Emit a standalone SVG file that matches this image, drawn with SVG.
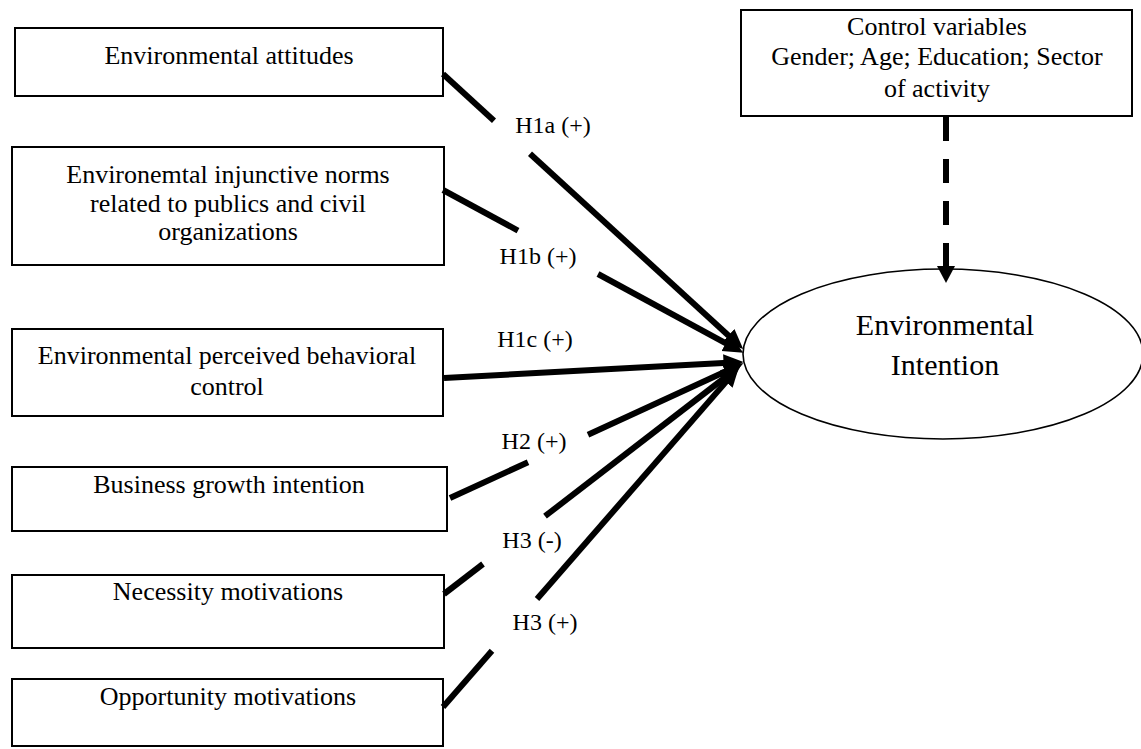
<svg xmlns="http://www.w3.org/2000/svg" width="1141" height="749" viewBox="0 0 1141 749">
  <defs>
    <style>
      .box { fill: #ffffff; stroke: #000000; stroke-width: 2; }
      .ell { fill: #ffffff; stroke: #000000; stroke-width: 1.6; }
      .t { font-family: "Liberation Serif", "Times New Roman", serif; font-size: 26px; fill: #000000; text-anchor: middle; }
      .big { font-size: 30px; }
      .lbl { font-family: "Liberation Serif", "Times New Roman", serif; font-size: 24px; fill: #000000; text-anchor: middle; }
      .con { stroke: #000000; stroke-width: 6; fill: none; }
      .dash { stroke-dasharray: 24 18; }
    </style>
    <marker id="ah" markerUnits="userSpaceOnUse" markerWidth="20" markerHeight="20" viewBox="0 -9 18 18" refX="4" refY="0" orient="auto">
      <path d="M0,-8 L18,0 L0,8 z" fill="#000000"/>
    </marker>
    <marker id="ahd" markerUnits="userSpaceOnUse" markerWidth="20" markerHeight="20" viewBox="0 -10 18 20" refX="1" refY="0" orient="auto">
      <path d="M0,-9 L17,0 L0,9 z" fill="#000000"/>
    </marker>
  </defs>

  <g id="n-attitudes">
    <rect class="box" x="15" y="28" width="428" height="68"/>
    <text class="t" x="229" y="64">Environmental attitudes</text>
  </g>

  <g id="n-norms">
    <rect class="box" x="12" y="147" width="432" height="118"/>
    <text class="t" x="228" y="183">Environemtal injunctive norms</text>
    <text class="t" x="228" y="212">related to publics and civil</text>
    <text class="t" x="228" y="240">organizations</text>
  </g>

  <g id="n-pbc">
    <rect class="box" x="12" y="329" width="431" height="87"/>
    <text class="t" x="227" y="364">Environmental perceived behavioral</text>
    <text class="t" x="227" y="395">control</text>
  </g>

  <g id="n-growth">
    <rect class="box" x="12" y="467" width="435" height="64"/>
    <text class="t" x="229" y="493">Business growth intention</text>
  </g>

  <g id="n-necessity">
    <rect class="box" x="12" y="575" width="432" height="73"/>
    <text class="t" x="228" y="600">Necessity motivations</text>
  </g>

  <g id="n-opportunity">
    <rect class="box" x="12" y="679" width="431" height="67"/>
    <text class="t" x="228" y="705">Opportunity motivations</text>
  </g>

  <g id="n-control">
    <rect class="box" x="741" y="10" width="391" height="106"/>
    <text class="t" x="937" y="35">Control variables</text>
    <text class="t" x="937" y="65">Gender; Age; Education; Sector</text>
    <text class="t" x="937" y="97">of activity</text>
  </g>

  <g id="n-intention">
    <ellipse class="ell" cx="943" cy="354" rx="200" ry="85"/>
    <text class="t big" x="945" y="335">Environmental</text>
    <text class="t big" x="945" y="375">Intention</text>
  </g>

  <g id="connectors">
    <!-- H1a -->
    <line class="con" x1="443" y1="74" x2="494" y2="120.7"/>
    <line class="con" x1="530" y1="153.7" x2="731.7" y2="338.5" marker-end="url(#ah)"/>
    <!-- H1b -->
    <line class="con" x1="443" y1="190" x2="518" y2="230.6"/>
    <line class="con" x1="598" y1="274" x2="729.7" y2="345.3" marker-end="url(#ah)"/>
    <!-- H1c -->
    <line class="con" x1="444" y1="378" x2="728" y2="362.8" marker-end="url(#ah)"/>
    <!-- H2 -->
    <line class="con" x1="450" y1="498" x2="528" y2="462.2"/>
    <line class="con" x1="588" y1="434.7" x2="729.3" y2="369.8" marker-end="url(#ah)"/>
    <!-- H3 (-) -->
    <line class="con" x1="444" y1="594" x2="483" y2="564"/>
    <line class="con" x1="545" y1="516.2" x2="728.9" y2="374.5" marker-end="url(#ah)"/>
    <!-- H3 (+) -->
    <line class="con" x1="443" y1="707" x2="492" y2="650.7"/>
    <line class="con" x1="537" y1="599" x2="728.8" y2="378.6" marker-end="url(#ah)"/>
    <!-- control dashed -->
    <line class="con dash" x1="946" y1="117" x2="946" y2="267" marker-end="url(#ahd)"/>

    <text class="lbl" x="553" y="133">H1a (+)</text>
    <text class="lbl" x="538" y="264">H1b (+)</text>
    <text class="lbl" x="535" y="347">H1c (+)</text>
    <text class="lbl" x="534" y="449">H2 (+)</text>
    <text class="lbl" x="532" y="548">H3 (-)</text>
    <text class="lbl" x="545" y="630">H3 (+)</text>
  </g>
</svg>
